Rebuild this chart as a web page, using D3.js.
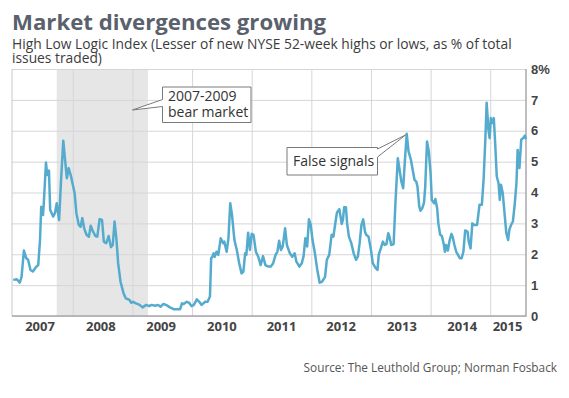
<!DOCTYPE html>
<html>
<head>
<meta charset="utf-8">
<script src="https://cdn.jsdelivr.net/npm/d3@7"></script>
<style>
  body { margin: 0; background: #fff; }
  svg { font-family: "Open Sans", sans-serif; }
  .grid line { stroke: #d6d6da; }
  .grid path { stroke: none; }
  .yAxis text { font-weight: bold; font-size: 13px; fill: #444; }
  .yearLabel { font-weight: bold; font-size: 13px; fill: #444; }
</style>
</head>
<body>
<div id="chart"></div>
<script>
// High Low Logic Index (decimal year, percent)
const years = [
  2007.00, 2007.06, 2007.11, 2007.14, 2007.18, 2007.22, 2007.25, 2007.29, 2007.33, 2007.39,
  2007.42, 2007.45, 2007.47, 2007.50, 2007.51, 2007.55, 2007.57, 2007.60, 2007.62, 2007.67,
  2007.70, 2007.73, 2007.77, 2007.80, 2007.84, 2007.87, 2007.90, 2007.93, 2007.97, 2008.00,
  2008.03, 2008.06, 2008.10, 2008.13, 2008.16, 2008.19, 2008.23, 2008.27, 2008.30, 2008.34,
  2008.38, 2008.41, 2008.45, 2008.49, 2008.52, 2008.56, 2008.60, 2008.64, 2008.67, 2008.70,
  2008.73, 2008.76, 2008.80, 2008.85, 2008.89, 2008.95, 2008.98, 2009.01, 2009.06, 2009.12,
  2009.17, 2009.23, 2009.28, 2009.32, 2009.38, 2009.43, 2009.47, 2009.52, 2009.57, 2009.63,
  2009.69, 2009.75, 2009.80, 2009.83, 2009.86, 2009.91, 2009.95, 2009.99, 2010.03, 2010.08,
  2010.12, 2010.16, 2010.22, 2010.26, 2010.30, 2010.32, 2010.34, 2010.36, 2010.38, 2010.41,
  2010.44, 2010.48, 2010.52, 2010.54, 2010.58, 2010.61, 2010.64, 2010.67, 2010.71, 2010.75,
  2010.79, 2010.83, 2010.86, 2010.89, 2010.91, 2010.94, 2010.97, 2011.00, 2011.03, 2011.07,
  2011.11, 2011.15, 2011.19, 2011.23, 2011.28, 2011.32, 2011.36, 2011.40, 2011.43, 2011.46,
  2011.49, 2011.52, 2011.56, 2011.59, 2011.64, 2011.68, 2011.72, 2011.75, 2011.80, 2011.84,
  2011.87, 2011.90, 2011.93, 2011.96, 2011.99, 2012.02, 2012.06, 2012.10, 2012.14, 2012.18,
  2012.23, 2012.26, 2012.30, 2012.34, 2012.37, 2012.41, 2012.43, 2012.47, 2012.51, 2012.53,
  2012.55, 2012.58, 2012.60, 2012.63, 2012.67, 2012.71, 2012.75, 2012.78, 2012.81, 2012.84,
  2012.87, 2012.90, 2012.92, 2012.96, 2013.00, 2013.03, 2013.08, 2013.11, 2013.13, 2013.16,
  2013.20, 2013.23, 2013.26, 2013.29, 2013.31, 2013.34, 2013.38, 2013.41, 2013.45, 2013.48,
  2013.51, 2013.54, 2013.57, 2013.60, 2013.63, 2013.67, 2013.70, 2013.73, 2013.76, 2013.78,
  2013.81, 2013.83, 2013.86, 2013.89, 2013.91, 2013.94, 2013.97, 2014.00, 2014.02, 2014.06,
  2014.08, 2014.11, 2014.13, 2014.16, 2014.19, 2014.22, 2014.24, 2014.26, 2014.29, 2014.32,
  2014.35, 2014.37, 2014.40, 2014.43, 2014.46, 2014.49, 2014.52, 2014.55, 2014.58, 2014.62,
  2014.64, 2014.67, 2014.70, 2014.73, 2014.75, 2014.78, 2014.82, 2014.86, 2014.89, 2014.92,
  2014.94, 2014.97, 2014.99, 2015.01, 2015.04, 2015.06, 2015.08, 2015.11, 2015.14, 2015.16,
  2015.18, 2015.21, 2015.24, 2015.27, 2015.30, 2015.32, 2015.35, 2015.38, 2015.41, 2015.44,
  2015.46, 2015.49, 2015.52, 2015.55, 2015.58, 2015.60
];
const values = [
  1.17, 1.19, 1.08, 1.27, 2.12, 1.87, 1.82, 1.49, 1.44, 1.60,
  1.65, 2.46, 3.54, 3.27, 3.54, 4.97, 4.57, 4.71, 3.44, 3.22,
  3.33, 3.65, 3.11, 4.30, 5.68, 5.06, 4.46, 4.79, 4.52, 4.25,
  3.98, 3.33, 2.95, 2.89, 3.17, 2.84, 2.63, 2.57, 2.92, 2.73,
  2.59, 2.57, 3.14, 3.11, 2.41, 2.36, 2.59, 2.23, 2.30, 3.06,
  2.52, 1.71, 1.11, 0.74, 0.57, 0.52, 0.43, 0.46, 0.41, 0.36,
  0.28, 0.36, 0.32, 0.36, 0.33, 0.36, 0.30, 0.39, 0.35, 0.28,
  0.22, 0.22, 0.22, 0.41, 0.39, 0.46, 0.43, 0.32, 0.36, 0.54,
  0.46, 0.36, 0.46, 0.46, 0.63, 1.87, 1.92, 2.03, 1.92, 2.08,
  1.98, 2.52, 2.36, 2.41, 2.08, 2.52, 3.65, 3.27, 2.46, 2.14,
  1.71, 1.38, 1.44, 2.03, 1.98, 2.70, 2.14, 2.66, 2.63, 2.08,
  1.92, 1.65, 1.94, 1.65, 1.60, 1.60, 1.71, 1.98, 2.08, 2.44,
  2.14, 2.25, 2.84, 2.30, 2.03, 1.92, 2.03, 1.76, 1.60, 1.71,
  1.94, 2.52, 2.25, 3.13, 2.95, 2.46, 2.03, 1.49, 1.08, 1.11,
  1.27, 1.82, 1.98, 2.63, 2.57, 3.11, 3.35, 3.46, 2.98, 3.11,
  3.52, 3.52, 3.00, 2.57, 2.36, 2.03, 1.82, 1.92, 2.36, 2.95,
  3.13, 2.73, 2.63, 2.57, 2.14, 1.71, 1.55, 1.49, 1.98, 2.16,
  2.41, 2.30, 2.33, 2.68, 2.57, 2.30, 2.33, 3.65, 5.11, 4.73,
  4.35, 4.14, 5.06, 5.90, 5.33, 5.06, 4.73, 4.41, 4.35, 4.19,
  3.54, 3.41, 3.49, 3.67, 4.19, 5.65, 5.33, 4.63, 3.76, 3.65,
  3.79, 3.49, 3.00, 2.63, 2.59, 2.33, 2.08, 2.30, 2.12, 2.46,
  2.66, 2.57, 2.30, 2.08, 1.98, 1.87, 1.87, 2.08, 2.77, 2.73,
  2.41, 2.19, 3.00, 2.95, 2.95, 2.95, 3.60, 3.60, 4.46, 5.81,
  6.91, 6.03, 5.76, 6.41, 6.25, 6.41, 5.71, 4.52, 4.30, 3.76,
  4.25, 3.98, 3.33, 2.68, 2.46, 2.79, 2.95, 3.06, 3.60, 4.30,
  5.38, 4.79, 5.71, 5.76, 5.84, 5.73
];

const yTicks = [0, 1, 2, 3, 4, 5, 6, 7, 8];
const yearBreaks = [2008, 2009, 2010, 2011, 2012, 2013, 2014, 2015];
const yearLabels = ["2007", "2008", "2009", "2010", "2011", "2012", "2013", "2014", "2015"];
const yearLabelPos = [2007.45, 2008.47, 2009.48, 2010.5, 2011.5, 2012.5, 2013.52, 2014.53, 2015.29];
const bearMarket = [2007.73, 2009.26];

const svgWidth = 569;
const svgHeight = 398;
const plot = {left: 12, right: 526, top: 69, bottom: 316};

const svg = d3.select("#chart")
  .append("svg")
  .attr("width", svgWidth)
  .attr("height", svgHeight);

const x = d3.scaleLinear().domain([2006.98, 2015.6]).range([plot.left, plot.right]);
const y = d3.scaleLinear().domain([0, 8]).range([plot.bottom, plot.top]);

// titles
svg.append("text")
  .attr("x", 12).attr("y", 30)
  .style("font-size", "22.2px").style("font-weight", "bold").style("fill", "#5a616d")
  .text("Market divergences growing");

svg.append("text")
  .attr("x", 12).attr("y", 48.5)
  .style("font-size", "13.8px").style("fill", "#3c3c3c")
  .text("High Low Logic Index (Lesser of new NYSE 52-week highs or lows, as % of total");
svg.append("text")
  .attr("x", 12).attr("y", 63)
  .style("font-size", "13.8px").style("fill", "#3c3c3c")
  .text("issues traded)");

// bear market shading
svg.append("rect")
  .attr("x", x(bearMarket[0]))
  .attr("y", plot.top)
  .attr("width", x(bearMarket[1]) - x(bearMarket[0]))
  .attr("height", plot.bottom - plot.top)
  .attr("fill", "#e6e6e6");

// horizontal grid + right labels
const yAxis = svg.append("g")
  .attr("class", "grid yAxis")
  .attr("transform", `translate(${plot.right},0)`)
  .call(d3.axisRight(y).tickValues(yTicks)
    .tickSize(-(plot.right - plot.left))
    .tickPadding(5)
    .tickFormat(d => d === 8 ? "8%" : d));
yAxis.selectAll("text").attr("x", 5);

// vertical grid at year breaks
svg.append("g")
  .attr("class", "grid")
  .attr("transform", `translate(0,${plot.bottom})`)
  .call(d3.axisBottom(x).tickValues(yearBreaks)
    .tickSize(-(plot.bottom - plot.top))
    .tickFormat(""));

// frame lines
svg.append("line")
  .attr("x1", plot.left).attr("x2", plot.left)
  .attr("y1", plot.top).attr("y2", plot.bottom)
  .attr("stroke", "#c8c8cc");
svg.append("line")
  .attr("x1", plot.left).attr("x2", plot.right)
  .attr("y1", plot.bottom).attr("y2", plot.bottom)
  .attr("stroke", "#a8a8ac").attr("stroke-width", 1.5);
svg.append("line")
  .attr("x1", plot.right).attr("x2", plot.right)
  .attr("y1", plot.top).attr("y2", plot.bottom + 0.75)
  .attr("stroke", "#a8a8ac").attr("stroke-width", 1.5);

// year labels
svg.selectAll(".yearLabel")
  .data(yearLabels)
  .enter()
  .append("text")
  .attr("class", "yearLabel")
  .attr("x", (d, i) => x(yearLabelPos[i]))
  .attr("y", 331)
  .attr("text-anchor", "middle")
  .text(d => d);

// the line
const series = years.map((yr, i) => ({yr: yr, v: values[i]}));
const line = d3.line()
  .x(d => x(d.yr))
  .y(d => y(d.v));

svg.append("path")
  .datum(series)
  .attr("d", line)
  .attr("fill", "none")
  .attr("stroke", "#55abcd")
  .attr("stroke-width", 2.5)
  .attr("stroke-linejoin", "round");

// callouts
function callout(box, tip, side, w1, w2) {
  const [bx, by, bw, bh] = box;
  let p;
  if (side === "left") {
    p = `M${bx},${by} H${bx + bw} V${by + bh} H${bx} V${by + w2} L${tip[0]},${tip[1]} L${bx},${by + w1} Z`;
  } else {
    p = `M${bx},${by} H${bx + bw} V${by + w1} L${tip[0]},${tip[1]} L${bx + bw},${by + w2} V${by + bh} H${bx} Z`;
  }
  svg.append("path")
    .attr("d", p)
    .attr("fill", "#fff")
    .attr("stroke", "#7a7a7a")
    .attr("stroke-width", 1);
}

callout([162.5, 87, 88.5, 35.5], [x(2009.0), 110], "left", 12.5, 19.5);
svg.append("text")
  .attr("x", 168).attr("y", 101)
  .style("font-size", "14px").style("fill", "#333")
  .text("2007-2009");
svg.append("text")
  .attr("x", 168).attr("y", 116.5)
  .style("font-size", "14px").style("fill", "#333")
  .text("bear market");

callout([287, 147.5, 90.5, 27.5], [x(2013.6) - 1, y(5.9) + 1], "right", 1.5, 9.5);
svg.append("text")
  .attr("x", 293).attr("y", 166)
  .style("font-size", "14px").style("fill", "#333")
  .text("False signals");

// source
svg.append("text")
  .attr("x", 557).attr("y", 372)
  .attr("text-anchor", "end")
  .style("font-size", "11.8px").style("fill", "#555")
  .text("Source: The Leuthold Group; Norman Fosback");
</script>
</body>
</html>
